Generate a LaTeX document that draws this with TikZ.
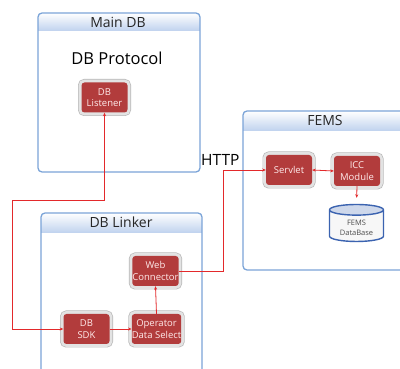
\documentclass[tikz,border=0pt]{standalone}
\usepackage{fontspec}
\setmainfont{Open Sans}
\usetikzlibrary{arrows.meta,shapes.geometric}
\definecolor{panelblue}{HTML}{7BA4D8}
\definecolor{hdrblue}{HTML}{BFD2EE}
\definecolor{boxred}{HTML}{B23C3C}
\definecolor{wirered}{HTML}{E3292B}
\definecolor{dbblue}{HTML}{3B63B0}
\tikzset{
  x=1pt, y=1pt,
  panelborder/.style={draw=panelblue, line width=1.3pt, rounded corners=4pt},
  paneltitle/.style={font=\fontsize{14}{16}\selectfont, text=black!85, inner sep=0pt},
  module/.style={
    preaction={draw=gray!55, line width=7pt, rounded corners=4pt},
    preaction={draw=gray!22, line width=5.6pt, rounded corners=4pt},
    fill=boxred, rounded corners=3pt, minimum width=46pt, minimum height=30pt,
    inner sep=0pt, align=center, text=white!92!red,
    font=\fontsize{9.5}{11.5}\selectfont},
  wire/.style={draw=wirered, line width=0.8pt},
  tip/.style={-{Stealth[length=3.5pt,width=3pt]}},
  tips/.style={{Stealth[length=3.5pt,width=3pt]}-{Stealth[length=3.5pt,width=3pt]}}
}
% one panel: clipped gradient header, then the rounded border
\newcommand{\panel}[5]{%
  \begin{scope}
    \clip[rounded corners=4pt] (#1,#2) rectangle (#3,#4);
    \fill[white] (#1,#2) rectangle (#3,#4);
    \shade[top color=white, bottom color=hdrblue] (#1,#2) rectangle (#3,#5);
  \end{scope}
  \draw[panelborder] (#1,#2) rectangle (#3,#4);
}
\begin{document}
\begin{tikzpicture}
\useasboundingbox (0,0) rectangle (400,-369);
\fill[white] (0,0) rectangle (400,-369);

% panels
\panel{38}{-13}{200}{-172}{-31}
\panel{41}{-213}{202}{-380}{-233}
\panel{243}{-111}{420}{-270}{-131}

\node[paneltitle] (tmain) at (118,-22) {Main DB};
\node[paneltitle] (tlinker) at (121,-222.5) {DB Linker};
\node[paneltitle] (tfems) at (325,-120.5) {FEMS};
\node[font=\fontsize{16.5}{18}\selectfont, inner sep=0pt] (proto) at (117,-58) {DB Protocol};
\node[font=\fontsize{15.5}{17}\selectfont, inner sep=0pt, anchor=west] (http) at (201,-160) {HTTP};

% modules
\node[module] (listener) at (104.5,-97.5) {DB\\Listener};
\node[module] (servlet) at (289,-170) {Servlet};
\node[module] (icc) at (357,-171) {ICC\\Module};
\node[module] (web) at (155.5,-271) {Web\\Connector};
\node[module] (sdk) at (86.5,-329) {DB\\SDK};
\node[module] (oper) at (156.5,-329) {Operator\\Data Select};

% database
\node[cylinder, shape border rotate=90, aspect=0.32, draw=dbblue, line width=1.4pt,
  cylinder uses custom fill, cylinder body fill=gray!6, cylinder end fill=dbblue!25,
  minimum width=54pt, minimum height=37pt, inner sep=0pt, text=black!70,
  font=\fontsize{7.5}{9.5}\selectfont, align=center] (db) at (356.5,-226) {\\[0pt]FEMS\\DataBase};

% connectors
\coordinate (lbend) at (12,-200);
\coordinate (hbend) at (223,-170);
\draw[wire, tips] (listener.south) |- (lbend) |- (sdk.west);
\draw[wire, tip] (web.east) -| (hbend) -- (servlet.west);
\draw[wire, tips] (servlet.east) -- (icc.west);
\draw[wire, tip, shorten >=6pt] (icc.south) -- (db.north);
\draw[wire, tip] (sdk.east) -- (oper.west);
\draw[wire, tip] (oper.north) -- (web.south);
\end{tikzpicture}
\end{document}
